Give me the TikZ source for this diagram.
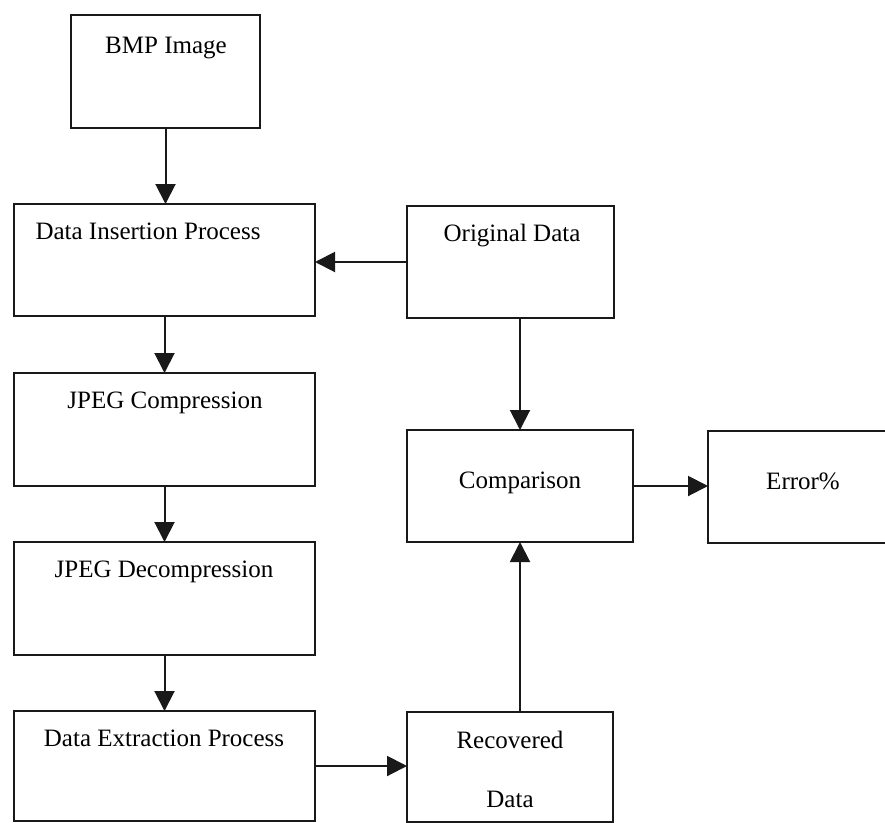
\documentclass[tikz,border=0pt]{standalone}
\usepackage{fontspec}
\setmainfont{Liberation Serif}
\usetikzlibrary{arrows.meta}
\begin{document}
\begin{tikzpicture}[x=1pt,y=-1pt,
  box/.style={draw=black!90, line width=2pt, rectangle, inner sep=0pt, outer sep=0pt},
  lbl/.style={anchor=base, inner sep=0pt, font=\fontsize{25}{30}\selectfont, text=black},
  arr/.style={draw=black!90, line width=2pt, -{Triangle[width=20pt,length=20pt]}}]
\clip (0,0) rectangle (885,822);
\fill[white] (0,0) rectangle (885,822);
% boxes
\node[box, minimum width=189pt, minimum height=113pt] (bmp) at (165.5,71.5) {};
\node[box, minimum width=301pt, minimum height=112pt] (di) at (164.5,260) {};
\node[box, minimum width=207pt, minimum height=112pt] (od) at (510.5,262) {};
\node[box, minimum width=301pt, minimum height=113pt] (jc) at (164.5,429.5) {};
\node[box, minimum width=301pt, minimum height=113pt] (jd) at (164.5,598.5) {};
\node[box, minimum width=301pt, minimum height=110pt] (de) at (164.5,766) {};
\node[box, minimum width=226pt, minimum height=112pt] (comp) at (520,486) {};
\node[box, minimum width=226pt, minimum height=112pt] (err) at (821,487) {};
\node[box, minimum width=206pt, minimum height=110pt] (rd) at (510,767) {};
% texts
\node[lbl] (bmp-t) at (166,53) {BMP Image};
\node[lbl] (di-t) at (148,239) {Data Insertion Process};
\node[lbl] (od-t) at (512,241) {Original Data};
\node[lbl] (jc-t) at (165,408) {JPEG Compression};
\node[lbl] (jd-t) at (164,577) {JPEG Decompression};
\node[lbl] (comp-t) at (520,488) {Comparison};
\node[lbl] (err-t) at (803,489) {Error\%};
\node[lbl] (de-t) at (164,746) {Data Extraction Process};
\node[lbl] (rd-t1) at (510,748) {Recovered};
\node[lbl] (rd-t2) at (510,807) {Data};
% connectors
\draw[arr] (bmp.south) -- (bmp.south |- di.north);
\draw[arr] (od.west) -- (od.west -| di.east);
\draw[arr] (od.south -| comp.north) -- (comp.north);
\draw[arr] (di.south) -- (jc.north);
\draw[arr] (jc.south) -- (jd.north);
\draw[arr] (jd.south) -- (de.north);
\draw[arr] (comp.east) -- (comp.east -| err.west);
\draw[arr] (de.east) -- (de.east -| rd.west);
\draw[arr] (rd.north -| comp.south) -- (comp.south);
\end{tikzpicture}
\end{document}
